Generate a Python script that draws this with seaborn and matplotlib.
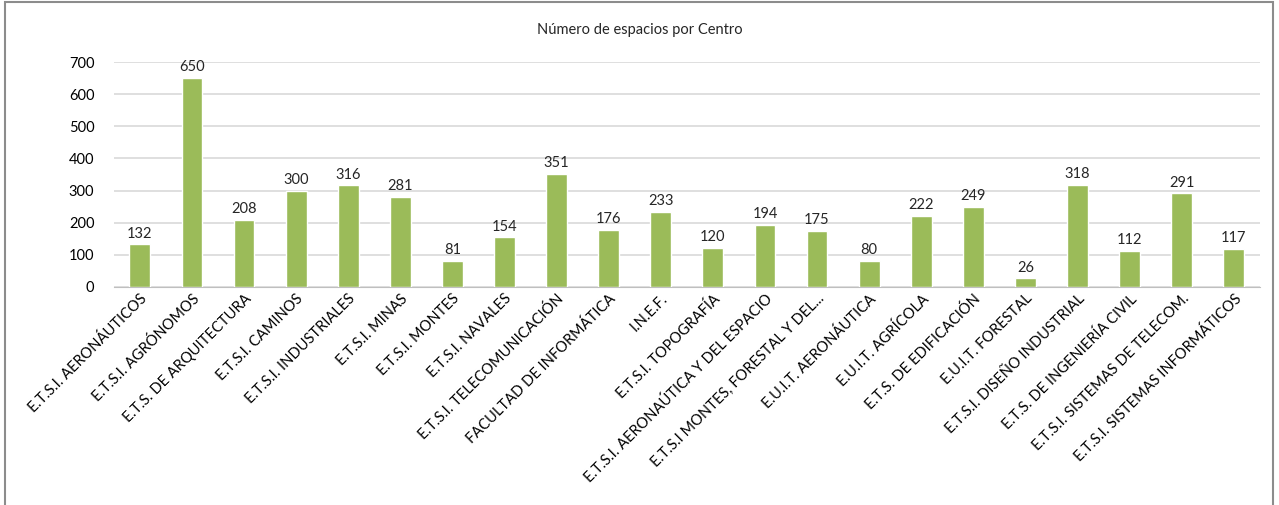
import matplotlib
matplotlib.use("Agg")
import matplotlib.pyplot as plt
import seaborn as sns
import pandas as pd
from matplotlib.patches import Rectangle

centros = [
    "E.T.S.I. AERONÁUTICOS", "E.T.S.I. AGRÓNOMOS", "E.T.S. DE ARQUITECTURA",
    "E.T.S.I. CAMINOS", "E.T.S.I. INDUSTRIALES", "E.T.S.I. MINAS",
    "E.T.S.I. MONTES", "E.T.S.I. NAVALES", "E.T.S.I. TELECOMUNICACIÓN",
    "FACULTAD DE INFORMÁTICA", "I.N.E.F.", "E.T.S.I. TOPOGRAFÍA",
    "E.T.S.I. AERONAÚTICA Y DEL ESPACIO", "E.T.S.I MONTES, FORESTAL Y DEL...",
    "E.U.I.T. AERONÁUTICA", "E.U.I.T. AGRÍCOLA", "E.T.S. DE EDIFICACIÓN",
    "E.U.I.T. FORESTAL", "E.T.S.I. DISEÑO INDUSTRIAL",
    "E.T.S. DE INGENIERÍA CIVIL", "E.T.S.I. SISTEMAS DE TELECOM.",
    "E.T.S.I. SISTEMAS INFORMÁTICOS",
]
espacios = [132, 650, 208, 300, 316, 281, 81, 154, 351, 176, 233, 120,
            194, 175, 80, 222, 249, 26, 318, 112, 291, 117]

df = pd.DataFrame({"centro": centros, "espacios": espacios})

sns.set_style("white")
plt.rcParams['font.family'] = ['Lato', 'DejaVu Sans']

fig = plt.figure(figsize=(12.79, 5.05), dpi=100)
ax = fig.add_axes([0.089, 0.432, 0.896, 0.445])

sns.barplot(data=df, x="centro", y="espacios", color="#9BBB59",
            width=0.4, saturation=1, ax=ax, zorder=3)

ax.set_ylim(0, 700)
ax.set_xlim(-0.5, len(centros) - 0.5)
ax.set_yticks(range(0, 701, 100))
ax.yaxis.grid(True, color="#D9D9D9", linewidth=1.2, zorder=0)
for s in ["top", "right", "left"]:
    ax.spines[s].set_visible(False)
ax.spines["bottom"].set_color("#BFBFBF")
ax.tick_params(axis="both", length=0, labelsize=10.5, colors="#000000")
ax.tick_params(axis="y", pad=14)
ax.set_xlabel("")
ax.set_ylabel("")
plt.setp(ax.get_xticklabels(), rotation=45, ha="right", rotation_mode="anchor")

# etiquetas encima de las barras
for i, v in enumerate(espacios):
    ax.text(i, v + 12, str(v), ha="center", va="bottom", fontsize=10.5)

fig.text(0.5, 0.94, "Número de espacios por Centro", ha="center",
         va="center", fontsize=10.5)

# marco del grafico
fig.patches.append(Rectangle((0.004, -0.05), 0.991, 1.046, transform=fig.transFigure,
                             fill=False, edgecolor="#8C8C8C", linewidth=1.5))

fig.savefig("out.png", dpi=100)
